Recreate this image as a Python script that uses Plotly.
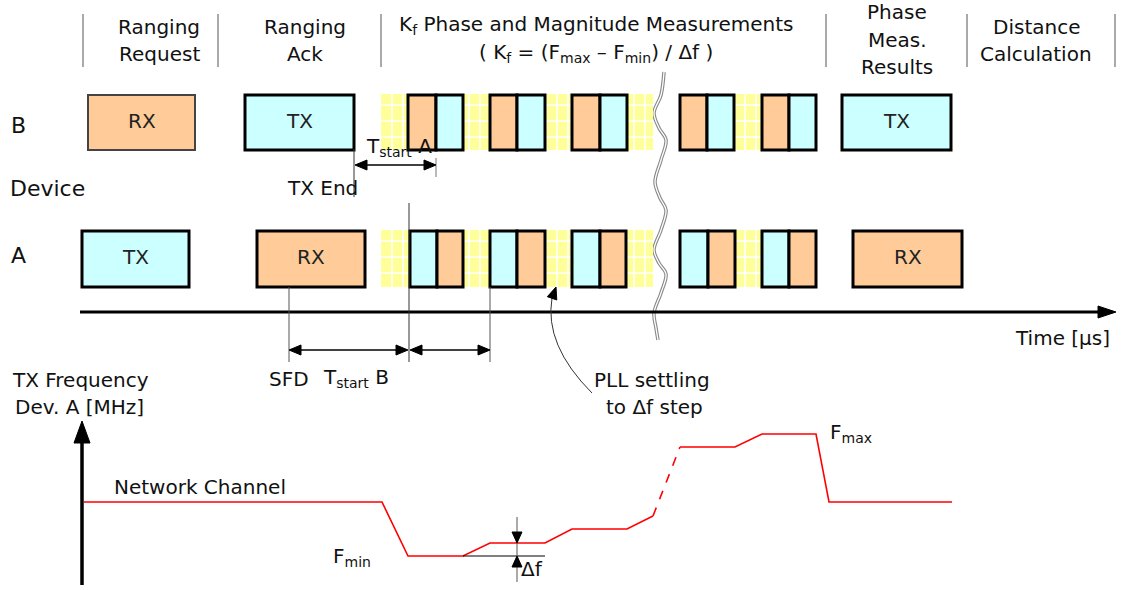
import plotly.graph_objects as go

FONT = "DejaVu Sans, Liberation Sans, Arial, sans-serif"

# ---------------- data (diagram geometry in pixel units) ----------------
header_div_x = [83, 218, 381, 826, 967, 1115]
header_text = ["Ranging", "Request", "Ranging", "Ack",
               "K<sub>f</sub> Phase and Magnitude Measurements",
               "( K<sub>f</sub> = (F<sub>max</sub> – F<sub>min</sub>) / Δf )",
               "Phase", "Meas.", "Results", "Distance", "Calculation"]
header_cx = [159, 159, 305, 305, 596, 596, 897, 897, 897, 1036, 1036]
header_cy = [27, 54, 27, 54, 25, 53, 12, 40, 67, 27, 54]

# blocks: row, x0, x1, kind, label
blk_row = ["B"] * 13 + ["A"] * 13
blk_x0 = [88, 245, 408, 436, 490, 517, 572, 600, 680, 707, 762, 789, 842,
          82, 257, 410, 437, 490, 517, 572, 600, 680, 708, 762, 789, 853]
blk_x1 = [195, 354, 436, 463, 517, 545, 600, 627, 707, 734, 789, 816, 951,
          189, 365, 437, 463, 517, 545, 600, 626, 708, 735, 789, 816, 962]
blk_kind = ["RX", "TX", "RX", "TX", "RX", "TX", "RX", "TX", "RX", "TX", "RX", "TX", "TX",
            "TX", "RX", "TX", "RX", "TX", "RX", "TX", "RX", "TX", "RX", "TX", "RX", "RX"]
blk_label = ["RX", "TX", "", "", "", "", "", "", "", "", "", "", "TX",
             "TX", "RX", "", "", "", "", "", "", "", "", "", "", "RX"]
row_top = {"B": 95, "A": 231}
row_bot = {"B": 150, "A": 287}

# PLL settling (yellow) zones
yellow_x0 = [381, 734]
yellow_x1 = [653, 762]

# TX frequency of device A
freq_x = [84, 382, 408, 463, 490, 545, 572, 627, 653]
freq_y = [502, 502, 556, 556, 543, 543, 529, 529, 516]
freq_dash_x = [653, 680]
freq_dash_y = [516, 447]
freq2_x = [680, 735, 762, 816, 829, 952]
freq2_y = [447, 447, 434, 434, 502, 502]

ORANGE = "#FFCC99"
CYAN = "#CCFFFF"
YELLOW = "#FFFF9A"

shapes = []
annots = []


def line(x0, y0, x1, y1, color="#000", width=1, dash=None):
    d = dict(type="line", xref="x", yref="y", x0=x0, y0=y0, x1=x1, y1=y1,
             line=dict(color=color, width=width))
    if dash:
        d["line"]["dash"] = dash
    shapes.append(d)


def arrowhead(tx, ty, dx, dy, length=12, half=5, color="#000"):
    n = (dx * dx + dy * dy) ** 0.5
    dx, dy = dx / n, dy / n
    bx, by = tx - dx * length, ty - dy * length
    px, py = -dy, dx
    path = (f"M {tx},{ty} L {bx + px * half},{by + py * half} "
            f"L {bx - px * half},{by - py * half} Z")
    shapes.append(dict(type="path", xref="x", yref="y", path=path,
                       fillcolor=color, line=dict(color=color, width=1)))


def text(s, x, y, size=20, xa="center", ya="middle", color="#111"):
    annots.append(dict(text=s, x=x, y=y, xref="x", yref="y", showarrow=False,
                       xanchor=xa, yanchor=ya,
                       font=dict(family=FONT, size=size, color=color)))


# header
for x in header_div_x:
    line(x, 14, x, 67, color="#555", width=1)
for s, cx, cy in zip(header_text, header_cx, header_cy):
    text(s, cx, cy, size=20)

# yellow grid zones
for r in ("B", "A"):
    t, b = row_top[r] - 1, row_bot[r]
    for x0, x1 in zip(yellow_x0, yellow_x1):
        shapes.append(dict(type="rect", xref="x", yref="y", x0=x0, x1=x1, y0=t, y1=b,
                           fillcolor=YELLOW, line=dict(width=0)))
        gx = x0 + 11
        while gx < x1:
            line(gx, t, gx, b, color="white", width=1.6)
            gx += 11
        gy = t + 11
        while gy < b - 4:
            line(x0, gy, x1, gy, color="white", width=1.6)
            gy += 16

# blocks
for r, x0, x1, k, lab in zip(blk_row, blk_x0, blk_x1, blk_kind, blk_label):
    t, b = row_top[r], row_bot[r]
    thin = (r == "B" and x0 == 88)
    shapes.append(dict(type="rect", xref="x", yref="y", x0=x0, x1=x1, y0=t, y1=b,
                       fillcolor=ORANGE if k == "RX" else CYAN,
                       line=dict(color="#444" if thin else "#000", width=2 if thin else 3)))
    if lab:
        text(lab, (x0 + x1) / 2, (t + b) / 2 - 2, size=20, color="#222")

# row labels
text("B", 9, 125, size=22, xa="left")
text("Device", 8, 188, size=22, xa="left")
text("A", 9, 255, size=22, xa="left")

# TX End & Tstart A
line(354, 149, 354, 197, color="#333", width=1)
text("TX End", 322, 188, size=20)
line(436, 158, 436, 177, color="#777", width=1)
line(362, 165, 429, 165, color="#000", width=1.5)
arrowhead(355, 165, -1, 0)
arrowhead(436, 165, 1, 0)
text("T<sub>start</sub> A", 364, 147, size=20, xa="left")

# time axis
line(80, 312, 1100, 312, color="#000", width=3)
arrowhead(1116, 312, 1, 0, length=18, half=6)
text("Time [µs]", 1112, 338, size=20, xa="right")

# vertical markers & Tstart B arrows
line(289, 287, 289, 362, color="#555", width=1)
line(409, 203, 409, 362, color="#333", width=1)
line(490, 287, 490, 362, color="#555", width=1)
line(296, 350, 402, 350, color="#000", width=1.5)
arrowhead(289, 350, -1, 0)
arrowhead(408, 350, 1, 0)
line(416, 350, 484, 350, color="#000", width=1.5)
arrowhead(410, 350, -1, 0)
arrowhead(490, 350, 1, 0)
text("SFD", 289, 379, size=20)
text("T<sub>start</sub> B", 321, 378, size=20, xa="left")

# PLL settling arrow
shapes.append(dict(type="path", xref="x", yref="y",
                   path="M 592,393 Q 544,345 552,298",
                   line=dict(color="#333", width=1)))
arrowhead(556, 287, 0.35, -1, length=12, half=5)
text("PLL settling", 592, 380, size=20, xa="left")
text("to Δf step", 604, 407, size=20, xa="left")

# frequency axis
line(82, 585, 82, 440, color="#000", width=3.5)
arrowhead(82, 421, 0, -1, length=22, half=8)
text("TX Frequency", 10, 380, size=20, xa="left")
text("Dev. A [MHz]", 13, 407, size=20, xa="left")
text("Network Channel", 112, 487, size=20, xa="left")
text("F<sub>min</sub>", 331, 557, size=20, xa="left")
text("F<sub>max</sub>", 828, 433, size=20, xa="left")

# delta f marker
line(463, 556, 545, 556, color="#000", width=1)
line(517, 517, 517, 582, color="#555", width=1)
arrowhead(517, 543, 0, 1, length=11, half=5)
arrowhead(517, 556, 0, -1, length=11, half=5)
text("Δf", 519, 569, size=20, xa="left")

fig = go.Figure()

# brace (decorative wavy break marker)
brace_x = [664, 661, 654, 659, 666, 661, 655, 660, 666, 661, 654, 659, 666, 661, 654, 656, 658]
brace_y = [72, 95, 113, 128, 140, 160, 182, 198, 210, 230, 250, 263, 274, 293, 313, 328, 340]
fig.add_trace(go.Scatter(x=brace_x, y=brace_y, mode="lines",
                         line=dict(color="#888", width=3.5, shape="spline"),
                         hoverinfo="skip", showlegend=False))
fig.add_trace(go.Scatter(x=brace_x, y=brace_y, mode="lines",
                         line=dict(color="white", width=1.3, shape="spline"),
                         hoverinfo="skip", showlegend=False))

# frequency line
fig.add_trace(go.Scatter(x=freq_x, y=freq_y, mode="lines",
                         line=dict(color="#FF0000", width=1.6),
                         hoverinfo="skip", showlegend=False))
fig.add_trace(go.Scatter(x=freq_dash_x, y=freq_dash_y, mode="lines",
                         line=dict(color="#FF0000", width=1.6, dash="dash"),
                         hoverinfo="skip", showlegend=False))
fig.add_trace(go.Scatter(x=freq2_x, y=freq2_y, mode="lines",
                         line=dict(color="#FF0000", width=1.6),
                         hoverinfo="skip", showlegend=False))

fig.update_layout(
    width=1122, height=590, autosize=False,
    margin=dict(l=0, r=0, t=0, b=0),
    paper_bgcolor="white", plot_bgcolor="white",
    xaxis=dict(range=[0, 1122], visible=False, fixedrange=True),
    yaxis=dict(range=[590, 0], visible=False, fixedrange=True),
    shapes=shapes, annotations=annots, showlegend=False,
)

fig.write_html("out.html", config={"displayModeBar": False})
